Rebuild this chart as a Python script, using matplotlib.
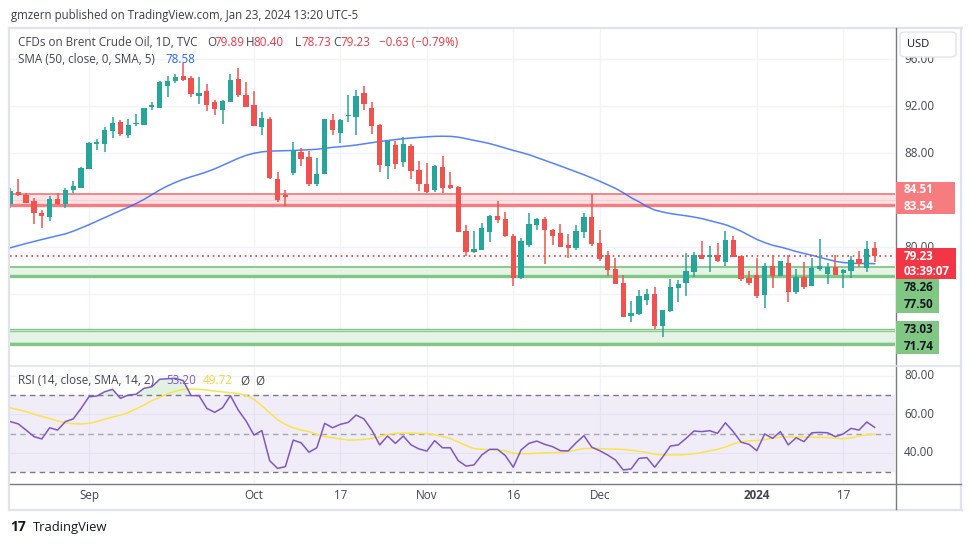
import numpy as np
import pandas as pd
import matplotlib
matplotlib.use("Agg")
import matplotlib.pyplot as plt
from matplotlib.patches import Rectangle, FancyBboxPatch
import matplotlib.transforms as mtransforms

plt.rcParams['font.family'] = ['Open Sans', 'DejaVu Sans']

# ---------------- data ----------------
dates = [d for d in pd.bdate_range("2023-08-18", "2024-01-23")
         if d.strftime("%Y-%m-%d") not in ("2023-12-25", "2024-01-01")]

opens = [83.69, 84.65, 84.45, 83.91, 82.89, 82.58, 84.06, 83.69, 84.85, 85.05,
         86.67, 88.74, 88.79, 89.90, 90.61, 89.56, 90.44, 90.41, 91.89, 91.86,
         93.70, 94.16, 94.58, 94.38, 92.88, 93.28, 92.37, 91.66, 92.31, 94.30,
         92.94, 92.09, 90.24, 90.89, 85.79, 84.45, 86.33, 88.09, 87.66, 85.39,
         86.24, 90.81, 89.73, 91.18, 91.09, 93.11, 91.83, 90.38, 86.92, 88.68,
         87.26, 88.60, 86.55, 85.33, 84.88, 86.81, 85.28, 85.11, 81.36, 79.57,
         79.77, 81.30, 82.64, 82.38, 80.94, 77.36, 80.20, 81.90, 82.38, 81.45,
         81.19, 80.17, 79.91, 81.30, 82.55, 80.34, 79.32, 78.13, 76.94, 74.16,
         74.30, 75.52, 76.00, 73.30, 74.55, 76.54, 76.96, 77.90, 79.32, 79.12,
         79.32, 78.75, 80.60, 79.23, 77.39, 77.62, 75.94, 78.38, 77.56, 78.64,
         76.20, 77.45, 76.71, 78.16, 77.73, 78.30, 77.82, 77.99, 78.98, 78.24,
         79.89]
highs = [85.05, 85.79, 84.60, 84.20, 83.12, 84.34, 84.60, 85.05, 85.62, 86.81,
         88.91, 89.19, 90.24, 91.04, 90.78, 90.92, 91.32, 91.85, 92.34, 94.13,
         94.55, 94.70, 95.69, 94.58, 94.50, 93.84, 92.48, 92.54, 94.70, 95.23,
         94.04, 93.28, 91.49, 91.06, 86.38, 84.85, 88.94, 88.40, 88.17, 87.57,
         90.89, 91.32, 90.87, 92.94, 93.36, 93.73, 92.34, 90.47, 89.11, 89.02,
         89.33, 88.77, 87.32, 87.12, 86.98, 87.74, 86.38, 85.19, 81.87, 81.36,
         82.04, 82.72, 83.91, 82.98, 81.11, 80.74, 82.89, 82.50, 82.55, 81.56,
         81.96, 81.11, 81.87, 82.89, 84.48, 81.45, 79.66, 79.04, 77.62, 75.40,
         76.34, 76.43, 76.60, 74.64, 77.28, 77.19, 79.49, 79.57, 80.51, 80.09,
         80.34, 81.36, 80.94, 79.23, 77.96, 79.09, 78.64, 79.32, 78.81, 79.35,
         78.13, 78.72, 79.09, 80.68, 78.64, 79.32, 78.13, 79.23, 79.66, 80.51,
         80.40]
lows = [83.35, 84.34, 83.72, 81.99, 81.65, 82.24, 83.57, 83.35, 84.62, 85.02,
        86.67, 88.26, 88.11, 89.30, 89.47, 89.30, 90.27, 90.38, 91.66, 91.86,
        92.74, 93.93, 94.13, 92.79, 92.20, 91.57, 91.26, 90.44, 92.31, 92.79,
        91.90, 90.33, 89.56, 85.82, 83.86, 83.52, 86.13, 86.89, 85.22, 85.22,
        86.24, 89.56, 88.88, 90.67, 89.56, 91.66, 89.62, 86.41, 85.82, 86.61,
        86.84, 85.82, 84.79, 84.60, 84.71, 84.62, 84.96, 81.30, 79.26, 79.52,
        79.77, 80.45, 82.07, 80.88, 76.71, 77.30, 80.03, 81.45, 78.58, 80.17,
        80.03, 79.09, 79.77, 80.79, 80.11, 78.84, 77.56, 76.88, 74.07, 73.65,
        74.24, 75.06, 73.02, 72.37, 74.50, 75.35, 75.86, 77.48, 79.01, 77.87,
        78.75, 78.41, 79.18, 77.13, 76.79, 75.69, 74.84, 76.54, 77.56, 75.35,
        76.03, 76.45, 76.71, 77.99, 76.88, 77.65, 76.54, 77.39, 78.33, 77.90,
        78.73]
closes = [84.77, 84.45, 83.77, 82.92, 82.67, 84.09, 83.66, 84.85, 85.19, 86.75,
          88.85, 88.96, 89.96, 90.55, 89.62, 90.38, 90.58, 91.80, 92.09, 94.07,
          94.13, 94.47, 94.21, 93.02, 93.11, 92.11, 91.74, 92.43, 94.18, 92.96,
          91.94, 90.33, 90.98, 85.87, 84.03, 84.28, 88.20, 87.52, 85.39, 86.21,
          90.89, 89.99, 90.81, 91.23, 92.85, 92.20, 90.33, 86.98, 89.02, 87.09,
          88.77, 86.50, 85.39, 84.71, 86.89, 85.05, 85.02, 81.30, 79.60, 79.83,
          81.62, 82.64, 82.33, 80.96, 77.39, 80.51, 81.96, 82.38, 81.45, 80.96,
          80.03, 79.94, 81.36, 82.55, 80.28, 79.01, 78.07, 76.88, 74.07, 74.38,
          75.83, 75.97, 73.30, 74.64, 76.57, 76.85, 77.96, 79.32, 79.01, 79.32,
          78.81, 80.60, 79.18, 77.28, 76.94, 75.83, 78.38, 77.56, 78.81, 76.20,
          77.45, 76.60, 78.24, 78.38, 78.30, 77.65, 78.04, 78.89, 78.58, 79.86,
          79.23]
sma50 = [79.94, 80.12, 80.30, 80.47, 80.64, 80.80, 80.96, 81.12, 81.35, 81.62,
         81.90, 82.20, 82.50, 82.80, 83.10, 83.38, 83.70, 84.05, 84.45, 84.85,
         85.20, 85.50, 85.76, 85.98, 86.18, 86.40, 86.65, 86.95, 87.25, 87.55,
         87.80, 87.98, 88.10, 88.16, 88.18, 88.20, 88.22, 88.25, 88.28, 88.32,
         88.40, 88.48, 88.54, 88.60, 88.68, 88.78, 88.88, 88.98, 89.06, 89.14,
         89.22, 89.28, 89.33, 89.38, 89.42, 89.43, 89.42, 89.35, 89.22, 89.08,
         88.95, 88.80, 88.62, 88.42, 88.22, 88.05, 87.86, 87.62, 87.38, 87.14,
         86.90, 86.65, 86.40, 86.15, 85.88, 85.60, 85.30, 85.00, 84.62, 84.20,
         83.85, 83.45, 83.15, 82.98, 82.85, 82.75, 82.66, 82.55, 82.42, 82.25,
         82.08, 81.90, 81.65, 81.35, 81.00, 80.65, 80.38, 80.15, 80.00, 79.82,
         79.62, 79.45, 79.30, 79.12, 78.95, 78.78, 78.68, 78.63, 78.60, 78.59,
         78.58]
rsi = [56.2, 55.0, 51.8, 48.4, 47.2, 53.0, 51.8, 56.2, 57.6, 63.1,
       69.1, 69.5, 71.7, 73.0, 68.3, 70.0, 70.4, 73.5, 74.3, 78.2,
       78.5, 78.7, 77.5, 69.7, 69.7, 63.1, 61.0, 63.4, 69.7, 62.2,
       56.5, 49.2, 51.5, 35.9, 31.9, 32.8, 46.6, 45.2, 40.3, 42.6,
       55.3, 53.0, 54.8, 55.8, 59.6, 57.6, 51.8, 44.1, 48.7, 44.9,
       48.7, 44.1, 42.0, 40.9, 46.3, 42.6, 42.6, 35.9, 33.1, 33.7,
       38.9, 41.8, 41.8, 38.5, 32.5, 41.5, 44.9, 46.1, 44.4, 43.2,
       41.1, 41.0, 45.2, 48.9, 42.9, 41.1, 38.9, 36.3, 31.1, 31.6,
       37.1, 37.5, 32.5, 37.7, 43.5, 44.1, 47.5, 51.3, 51.0, 51.5,
       50.1, 55.6, 51.0, 45.5, 44.4, 41.1, 49.8, 47.5, 51.0, 44.1,
       47.8, 45.8, 50.4, 50.6, 50.4, 48.4, 49.8, 52.7, 51.8, 56.0,
       53.2]
rsi_sma = [63.4, 62.4, 61.4, 60.1, 58.9, 57.8, 56.6, 55.6, 55.1, 55.0,
           55.3, 56.2, 57.4, 58.6, 59.6, 60.9, 62.8, 64.8, 67.0, 68.8,
           70.6, 72.0, 72.9, 73.1, 73.0, 72.6, 72.1, 71.6, 71.2, 70.8,
           69.8, 67.8, 64.5, 60.8, 57.2, 54.8, 53.0, 51.8, 51.0, 49.6,
           48.4, 47.8, 47.2, 46.6, 46.7, 47.0, 47.5, 48.3, 49.6, 50.1,
           50.3, 50.2, 50.1, 50.0, 49.4, 48.4, 47.4, 45.6, 43.8, 42.2,
           41.8, 41.6, 41.4, 41.0, 39.8, 39.5, 39.6, 39.8, 40.0, 40.1,
           40.2, 40.6, 41.4, 42.2, 42.3, 42.2, 42.0, 41.9, 41.8, 41.3,
           40.8, 40.2, 39.2, 38.9, 38.9, 38.9, 39.1, 39.5, 40.1, 41.0,
           41.8, 43.0, 44.6, 45.8, 46.2, 46.4, 46.8, 47.6, 48.1, 48.2,
           48.2, 48.1, 48.1, 48.0, 47.9, 47.6, 47.3, 47.8, 48.7, 49.4,
           49.72]

resistance_zone = (83.54, 84.51)
support_zone_1 = (77.50, 78.26)
support_zone_2 = (71.74, 73.03)
last_price = 79.23
countdown = "03:39:07"
price_ticks = [96, 92, 88, 80]
rsi_ticks = [80, 60, 40]
time_ticks = [("2023-09-01", "Sep"), ("2023-10-02", "Oct"), ("2023-10-17", "17"),
              ("2023-11-01", "Nov"), ("2023-11-16", "16"), ("2023-12-01", "Dec"),
              ("2024-01-02", "2024"), ("2024-01-17", "17")]

# ---------------- styling ----------------
W, H = 970, 545
UP, DOWN = '#26a69a', '#ef5350'
GRID = '#f0f3fa'
TXT = '#434651'
FS = 8.4

fig = plt.figure(figsize=(W / 100, H / 100), dpi=100)
fig.patch.set_facecolor('white')

def fx(x):
    return x / W

def fy(y):
    return 1 - y / H

LEFT, RIGHT = 10, 895
ax = fig.add_axes([fx(LEFT), fy(365), fx(RIGHT - LEFT), (365 - 28) / H])
ax2 = fig.add_axes([fx(LEFT), fy(483), fx(RIGHT - LEFT), (483 - 366) / H])

n = len(closes)
x = np.arange(n)
o, h, l, c = map(np.array, (opens, highs, lows, closes))
step = 7.857
xmin = (LEFT - 10.4) / step
xmax = (RIGHT - 10.4) / step
for a in (ax, ax2):
    a.set_xlim(xmin, xmax)
    a.set_facecolor('white')
    for s in a.spines.values():
        s.set_visible(False)
    a.tick_params(left=False, right=False, bottom=False, top=False,
                  labelleft=False, labelbottom=False)

ax.set_ylim(69.96, 98.64)
ax2.set_ylim(24.31, 85.09)

date_idx = {d.strftime("%Y-%m-%d"): i for i, d in enumerate(dates)}
tick_pos = [date_idx[d] for d, _ in time_ticks]

# grid
for a in (ax, ax2):
    for tp in tick_pos:
        a.axvline(tp, color=GRID, lw=1, zorder=0)
for v in range(72, 100, 4):
    ax.axhline(v, color=GRID, lw=1, zorder=0)
for v in rsi_ticks:
    ax2.axhline(v, color=GRID, lw=1, zorder=0)

# zones
def zone(lo, hi, fill, edge, lw_top=1.3):
    ax.axhspan(lo, hi, color=fill, lw=0, zorder=1)
    ax.axhline(hi, color=edge, lw=lw_top, zorder=1.5)
    ax.axhline(lo, color=edge, lw=2.4, zorder=1.5)

zone(*resistance_zone, '#fce4e6', '#f77c80')
ax.axhline(sum(resistance_zone) / 2, color='#f8d0d3', lw=0.8, zorder=1.2)
zone(*support_zone_1, '#e6f4e7', '#81c784')
zone(*support_zone_2, '#e6f4e7', '#81c784', lw_top=1.0)
ax.axhline(support_zone_2[1] - 0.17, color='#8fcc91', lw=1.0, zorder=1.5)
ax.axhline(support_zone_2[0] + 0.2, color='#d3e8d4', lw=0.8, zorder=1.2)

# SMA
ax.plot(x, sma50, color='#2962ff', lw=1.1, zorder=2, alpha=0.8)

# candles
colors = np.where(c >= o, UP, DOWN)
ax.vlines(x, l, h, colors=colors, lw=1.1, zorder=3)
body_lo = np.minimum(o, c)
body_h = np.maximum(np.abs(c - o), 0.05)
ax.bar(x, body_h, bottom=body_lo, width=0.68, color=colors, lw=0, zorder=4)

# last price line
ax.axhline(last_price, color='#f23645', lw=1.2, ls=(0, (1, 2.2)), zorder=2.5)

# RSI pane
ax2.axhspan(30, 70, color='#7e57c2', alpha=0.10, lw=0, zorder=0.5)
for v in (70, 30):
    ax2.axhline(v, color='#787b86', lw=1, ls=(0, (4, 3)), zorder=1)
ax2.axhline(50, color='#a3a6af', lw=1, ls=(0, (4, 3)), zorder=1)
r = np.array(rsi)
ax2.fill_between(x, r, 70, where=r > 70, interpolate=True, color='#4caf50', alpha=0.16, lw=0, zorder=1)
ax2.plot(x, rsi_sma, color='#fbe34a', lw=1.1, zorder=2)
ax2.plot(x, rsi, color='#7e57c2', lw=1.1, zorder=3)

# ---------------- frame lines ----------------
def fline(x0, y0, x1, y1, color, lw):
    fig.add_artist(plt.Line2D([fx(x0), fx(x1)], [fy(y0), fy(y1)], color=color, lw=lw,
                              transform=fig.transFigure, zorder=5))

fline(9, 27.5, 962, 27.5, '#e0e3eb', 1.6)
fline(9, 509.5, 962, 509.5, '#e0e3eb', 1.6)
fline(9.2, 27.5, 9.2, 509.5, '#e0e3eb', 1.6)
fline(961, 27.5, 961, 509.5, '#e0e3eb', 1.6)
fline(LEFT, 365.5, RIGHT, 365.5, '#e0e3eb', 1.2)
fline(RIGHT + 0.5, 28, RIGHT + 0.5, 509, '#787b86', 1.0)
fline(LEFT, 483.5, 961, 483.5, '#787b86', 1.0)
fline(RIGHT, 365.5, 961, 365.5, '#e0e3eb', 1.2)

# ---------------- axis labels ----------------
blend_p = mtransforms.blended_transform_factory(fig.transFigure, ax.transData)
blend_r = mtransforms.blended_transform_factory(fig.transFigure, ax2.transData)
for v in price_ticks:
    fig.text(fx(904), v, f"{v:.2f}", transform=blend_p, ha='left', va='center',
             fontsize=FS, color=TXT, zorder=2)
for v in rsi_ticks:
    fig.text(fx(904), v, f"{v:.2f}", transform=blend_r, ha='left', va='center',
             fontsize=FS, color=TXT, zorder=2)

xb = mtransforms.blended_transform_factory(ax2.transData, fig.transFigure)
for (d, lab), p in zip(time_ticks, tick_pos):
    fig.text(p, fy(495.5), lab, transform=xb, ha='center', va='center', fontsize=FS,
             color=TXT, fontweight='bold' if lab == '2024' else 'normal')

def py(v):
    return H - ax.transData.transform((0, v))[1]

def box(x0, y0, x1, y1, color):
    fig.add_artist(Rectangle((fx(x0), fy(y1)), fx(x1 - x0), (y1 - y0) / H,
                             transform=fig.transFigure, facecolor=color, lw=0, zorder=6))

def btext(xp, yp, s, color, bold=True):
    fig.text(fx(xp), fy(yp), s, ha='left', va='center', fontsize=FS, color=color,
             fontweight='bold' if bold else 'normal', zorder=7)

# resistance label
cy = (py(resistance_zone[0]) + py(resistance_zone[1])) / 2 - 1.5
box(896, cy - 16, 955, cy + 16, '#f77c80')
btext(904, cy - 8.5, f"{resistance_zone[1]:.2f}", 'white')
btext(904, cy + 8, f"{resistance_zone[0]:.2f}", 'white')

# last price label
lp = py(last_price)
box(896, lp - 8, 956, lp + 23, '#f23645')
btext(904, lp, f"{last_price:.2f}", 'white')
btext(904, lp + 15.5, countdown, 'white')

# support 1 label
top1 = lp + 23
box(896, top1, 939, top1 + 34, '#81c784')
btext(904, top1 + 8.5, f"{support_zone_1[1]:.2f}", '#131722')
btext(904, top1 + 25.5, f"{support_zone_1[0]:.2f}", '#131722')

# support 2 label
cy2 = (py(support_zone_2[0]) + py(support_zone_2[1])) / 2 + 1
box(896, cy2 - 16.5, 939, cy2 + 16.5, '#81c784')
btext(904, cy2 - 8, f"{support_zone_2[1]:.2f}", '#131722')
btext(904, cy2 + 8.5, f"{support_zone_2[0]:.2f}", '#131722')

# USD button
fig.add_artist(FancyBboxPatch((fx(900), fy(57)), fx(56), 25 / H,
                              boxstyle="round,pad=0,rounding_size=0.006",
                              transform=fig.transFigure, facecolor='white',
                              edgecolor='#e0e3eb', lw=1, zorder=6))
fig.text(fx(918.5), fy(44.5), "USD", ha='center', va='center', fontsize=8.0,
         color='#131722', zorder=7)

# ---------------- legends / titles ----------------
def t(xp, yp, s, color, size=FS, weight='normal'):
    fig.text(fx(xp), fy(yp), s, ha='left', va='center', fontsize=size, color=color,
             fontweight=weight, zorder=8)

t(11, 15, "gmzern published on TradingView.com, Jan 23, 2024 13:20 UTC-5", '#3b3e48', 8.3)

RED = '#f23645'
t(18, 42.5, "CFDs on Brent Crude Oil, 1D, TVC", TXT)
t(207, 42.5, "O", TXT); t(214.5, 42.5, f"{opens[-1]:.2f}", RED)
t(246, 42.5, "H", TXT); t(253.5, 42.5, f"{highs[-1]:.2f}", RED)
t(295, 42.5, "L", TXT); t(301, 42.5, f"{lows[-1]:.2f}", RED)
t(333, 42.5, "C", TXT); t(340, 42.5, f"{closes[-1]:.2f}", RED)
chg = closes[-1] - closes[-2]
t(379, 42.5, f"\u2212{abs(chg):.2f} (\u2212{abs(chg) / closes[-2] * 100:.2f}%)", RED)

t(18, 59.5, "SMA (50, close, 0, SMA, 5)", TXT)
t(165, 59.5, f"{sma50[-1]:.2f}", '#2962ff')

t(18, 381, "RSI (14, close, SMA, 14, 2)", TXT)
t(166, 381, f"{rsi[-1]:.2f}", '#7e57c2')
t(203, 381, f"{rsi_sma[-1]:.2f}", '#f5d63d')
t(240, 381, "\u00d8", TXT)
t(255, 381, "\u00d8", TXT)

# TradingView logo
t(10, 527, "17", '#131722', 10, 'bold')
t(33, 527, "TradingView", '#131722', 9.4)

fig.savefig("out.png", dpi=100, facecolor='white')
